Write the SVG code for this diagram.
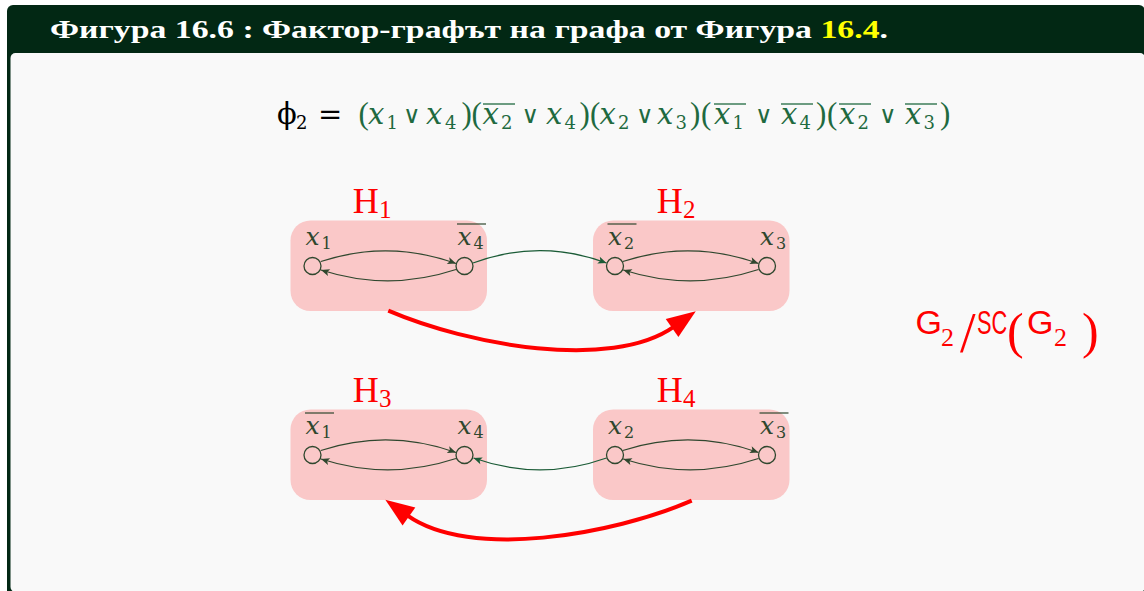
<svg xmlns="http://www.w3.org/2000/svg" width="1144" height="591" viewBox="0 0 1144 591">
<style>
.mi{font-family:"DejaVu Serif",serif;font-style:italic}
.rm{font-family:"DejaVu Serif",serif}
.fm{fill:#1f6a40;font-size:29px}
.fs{fill:#1f6a40;font-size:18px}
.par{font-family:"Liberation Serif",serif;fill:#1f6a40;font-size:31px}
.or{font-family:"DejaVu Sans",sans-serif;fill:#1f6a40;font-size:24px}
.ol{stroke:#1f6a40;stroke-width:1.3}
.box{fill:#fac8c8}
.nd{fill:none;stroke:#2f472e;stroke-width:1.3}
.lb{fill:#2f472e;font-size:25px}
.lbs{fill:#2f472e;font-size:16px}
.lol{stroke:#2f472e;stroke-width:1.2}
.hl{font-family:"Liberation Serif",serif;fill:#ff0000;font-size:36px}
.hs{font-family:"Liberation Serif",serif;fill:#ff0000;font-size:25px}
.e{fill:none;stroke:#2f472e;stroke-width:1.2}
.eg{fill:none;stroke:#1a5b36;stroke-width:1.2}
.re{fill:none;stroke:#ff0000;stroke-width:4}
.ql{fill:#ff0000}
</style>
<defs>
<marker id="ah" markerUnits="userSpaceOnUse" markerWidth="12" markerHeight="10" viewBox="-10 -5 12 10" refX="0" refY="0" orient="auto" overflow="visible">
<path d="M0,0 L-8.5,-3.6 L-6.5,0 L-8.5,3.6 Z" fill="#2f472e"/>
</marker>
<marker id="ahg" markerUnits="userSpaceOnUse" markerWidth="12" markerHeight="10" viewBox="-10 -5 12 10" refX="0" refY="0" orient="auto" overflow="visible">
<path d="M0,0 L-8.5,-3.6 L-6.5,0 L-8.5,3.6 Z" fill="#1a5b36"/>
</marker>
<marker id="rah" markerUnits="userSpaceOnUse" markerWidth="32" markerHeight="26" viewBox="-3 -13 32 26" refX="0" refY="0" orient="auto" overflow="visible">
<path d="M-2,-11 L27,0 L-2,11 Z" fill="#ff0000"/>
</marker>
</defs>

<g id="frame">
<rect x="7" y="5" width="1138" height="592" rx="6" fill="#022814"/>
<rect x="10.5" y="53" width="1134.5" height="539" rx="5" fill="#f9f9f9"/>
<text x="50" y="38" font-family="'Liberation Serif',serif" font-weight="bold" font-size="25" fill="#ffffff" textLength="838" lengthAdjust="spacingAndGlyphs">Фигура 16.6 : Фактор-графът на графа от Фигура <tspan fill="#ffff00">16.4</tspan>.</text>
</g>

<g id="formula">
<text x="277" y="124" class="rm" font-size="29" fill="#000">ϕ</text>
<text x="296" y="129" class="rm" font-size="18" fill="#000">2</text>
<text x="318" y="124" class="rm" font-size="29" fill="#000">=</text>
<!-- G1 -->
<text x="358.5" y="124" class="par">(</text>
<text x="368" y="124" class="mi fm">x</text><text x="386.5" y="129" class="rm fs">1</text>
<text x="403" y="123" class="or">∨</text>
<text x="426" y="124" class="mi fm">x</text><text x="445" y="129" class="rm fs">4</text>
<text x="461.5" y="124" class="par">)</text>
<!-- G2 -->
<text x="471.5" y="124" class="par">(</text>
<text x="482.5" y="124" class="mi fm">x</text><text x="501" y="129" class="rm fs">2</text>
<line x1="483" y1="104" x2="515" y2="104" class="ol"/>
<text x="521.5" y="123" class="or">∨</text>
<text x="546" y="124" class="mi fm">x</text><text x="564.5" y="129" class="rm fs">4</text>
<text x="579.5" y="124" class="par">)</text>
<!-- G3 -->
<text x="590" y="124" class="par">(</text>
<text x="599.5" y="124" class="mi fm">x</text><text x="618" y="129" class="rm fs">2</text>
<text x="636" y="123" class="or">∨</text>
<text x="657" y="124" class="mi fm">x</text><text x="675.5" y="129" class="rm fs">3</text>
<text x="690" y="124" class="par">)</text>
<!-- G4 -->
<text x="701" y="124" class="par">(</text>
<text x="714" y="124" class="mi fm">x</text><text x="732.5" y="129" class="rm fs">1</text>
<line x1="714" y1="104" x2="746" y2="104" class="ol"/>
<text x="755" y="123" class="or">∨</text>
<text x="781" y="124" class="mi fm">x</text><text x="799.5" y="129" class="rm fs">4</text>
<line x1="781" y1="104" x2="813" y2="104" class="ol"/>
<text x="816" y="124" class="par">)</text>
<!-- G5 -->
<text x="827" y="124" class="par">(</text>
<text x="839" y="124" class="mi fm">x</text><text x="857.5" y="129" class="rm fs">2</text>
<line x1="839" y1="104" x2="871" y2="104" class="ol"/>
<text x="879" y="123" class="or">∨</text>
<text x="905" y="124" class="mi fm">x</text><text x="923.5" y="129" class="rm fs">3</text>
<line x1="905" y1="104" x2="937" y2="104" class="ol"/>
<text x="940" y="124" class="par">)</text>
</g>

<g id="H1">
<rect x="290.5" y="220.5" width="196.5" height="90.5" rx="20" class="box"/>
<text x="352.7" y="213" class="hl">H</text><text x="379" y="218" class="hs">1</text>
<circle cx="312.5" cy="266" r="8.5" class="nd"/>
<circle cx="464.5" cy="266" r="8.5" class="nd"/>
<text x="305.5" y="245" class="mi lb">x</text><text x="321.5" y="249" class="rm lbs">1</text>
<text x="457.5" y="245" class="mi lb">x</text><text x="473.5" y="249" class="rm lbs">4</text>
<line x1="457" y1="224" x2="486" y2="224" class="lol"/>
</g>

<g id="H2">
<rect x="593" y="220.5" width="196.5" height="90.5" rx="20" class="box"/>
<text x="656.7" y="213" class="hl">H</text><text x="683" y="218" class="hs">2</text>
<circle cx="615" cy="266" r="8.5" class="nd"/>
<circle cx="767" cy="266" r="8.5" class="nd"/>
<text x="608" y="245" class="mi lb">x</text><text x="624" y="249" class="rm lbs">2</text>
<line x1="607.5" y1="224" x2="636.5" y2="224" class="lol"/>
<text x="760" y="245" class="mi lb">x</text><text x="776" y="249" class="rm lbs">3</text>
</g>

<g id="H3">
<rect x="290.5" y="409.5" width="196.5" height="90.5" rx="20" class="box"/>
<text x="352.7" y="402" class="hl">H</text><text x="379" y="407" class="hs">3</text>
<circle cx="312.5" cy="455" r="8.5" class="nd"/>
<circle cx="464.5" cy="455" r="8.5" class="nd"/>
<text x="305.5" y="434" class="mi lb">x</text><text x="321.5" y="438" class="rm lbs">1</text>
<line x1="305" y1="413" x2="334" y2="413" class="lol"/>
<text x="457.5" y="434" class="mi lb">x</text><text x="473.5" y="438" class="rm lbs">4</text>
</g>

<g id="H4">
<rect x="593" y="409.5" width="196.5" height="90.5" rx="20" class="box"/>
<text x="656.7" y="402" class="hl">H</text><text x="683" y="407" class="hs">4</text>
<circle cx="615" cy="455" r="8.5" class="nd"/>
<circle cx="767" cy="455" r="8.5" class="nd"/>
<text x="608" y="434" class="mi lb">x</text><text x="624" y="438" class="rm lbs">2</text>
<text x="760" y="434" class="mi lb">x</text><text x="776" y="438" class="rm lbs">3</text>
<line x1="759.5" y1="413" x2="788.5" y2="413" class="lol"/>
</g>

<g id="quotient-label">
<text x="915.5" y="334" font-family="'Liberation Sans',sans-serif" font-size="34" class="ql">G</text>
<text x="941" y="346" font-family="'Liberation Serif',serif" font-size="26" class="ql">2</text>
<text x="960" y="352" font-family="'Liberation Serif',serif" font-size="56" class="ql">/</text>
<text transform="translate(977,334) scale(0.66,1)" font-family="'Liberation Sans',sans-serif" font-size="33" class="ql">SC</text>
<text x="1007" y="348" font-family="'Liberation Serif',serif" font-size="50" class="ql">(</text>
<text x="1027" y="334" font-family="'Liberation Sans',sans-serif" font-size="34" class="ql">G</text>
<text x="1054" y="346" font-family="'Liberation Serif',serif" font-size="26" class="ql">2</text>
<text x="1082" y="348" font-family="'Liberation Serif',serif" font-size="50" class="ql">)</text>
</g>

<g id="connectors">
<path d="M320.8,261.5 Q388.5,239.4 456,263.5" class="e" marker-end="url(#ah)"/>
<path d="M456,269.5 Q388.5,291.8 321,270" class="e" marker-end="url(#ah)"/>
<path d="M622.8,261.5 Q691,239.4 758.5,263.5" class="e" marker-end="url(#ah)"/>
<path d="M758.5,269.5 Q691,291.8 623.3,270" class="e" marker-end="url(#ah)"/>
<path d="M320.8,450.5 Q388.5,428.4 456,452.5" class="e" marker-end="url(#ah)"/>
<path d="M456,458.5 Q388.5,480.8 321,459" class="e" marker-end="url(#ah)"/>
<path d="M622.8,450.5 Q691,428.4 758.5,452.5" class="e" marker-end="url(#ah)"/>
<path d="M758.5,458.5 Q691,480.8 623.3,459" class="e" marker-end="url(#ah)"/>
<path d="M473,263 Q540,238.3 606.5,263" class="eg" marker-end="url(#ahg)"/>
<path d="M606.5,458 Q540,481.7 473.5,458" class="eg" marker-end="url(#ahg)"/>
<path d="M388.3,310.7 C468,345 611,371 673.7,326.9" class="re" marker-end="url(#rah)"/>
<path d="M691.7,500.7 C612,535 470,560 407.3,515.3" class="re" marker-end="url(#rah)"/>
</g>
</svg>
